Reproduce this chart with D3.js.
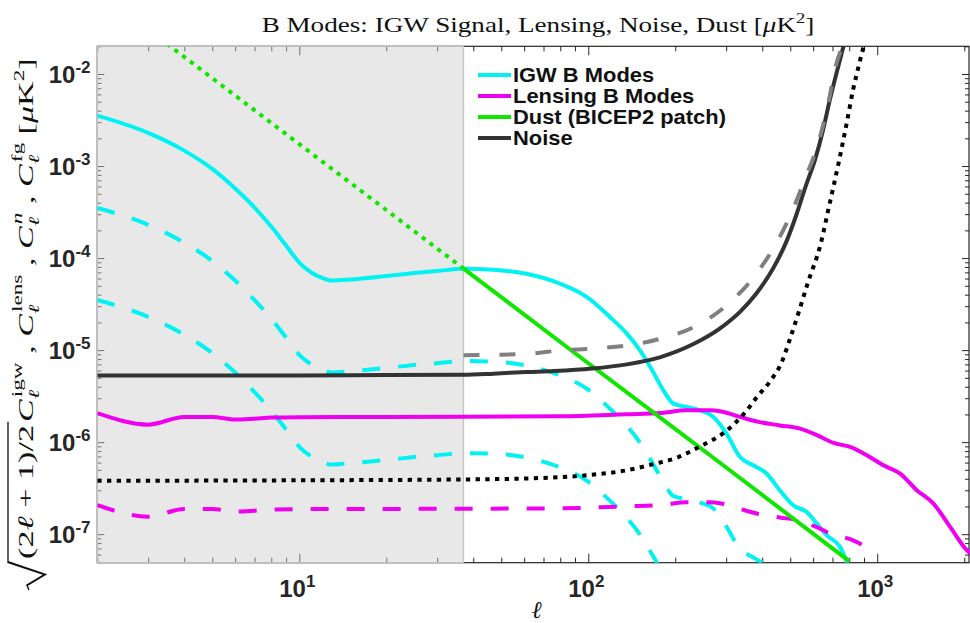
<!DOCTYPE html>
<html><head><meta charset="utf-8">
<script src="https://cdn.jsdelivr.net/npm/d3@7/dist/d3.min.js"></script>
<style>html,body{margin:0;padding:0;background:#fff;} svg{display:block;}</style>
</head><body>
<svg id="chart" width="970" height="623"></svg>
<script>
// ---------------- DATA ----------------
const ellIGW = [2,3,4,5,6,7,8,9,10,11,12,13,15,20,25,30,37,47,61,80,99,119,136,151,164,182,197,219,244,271,301,335,372,414,460,512,570,617,668,743,790];
const igwSolid = [3.53e-3,2.29e-3,1.47e-3,9.3e-4,5.69e-4,3.54e-4,2.2e-4,1.37e-4,8.95e-5,6.97e-5,6.08e-5,5.71e-5,5.86e-5,6.39e-5,6.88e-5,7.24e-5,7.65e-5,7.47e-5,6.75e-5,5.26e-5,3.76e-5,2.28e-5,1.51e-5,9.93e-6,6.54e-6,3.66e-6,2.62e-6,2.41e-6,2.22e-6,1.88e-6,1.24e-6,6.9e-7,5.61e-7,4.56e-7,3.0e-7,2.06e-7,1.74e-7,1.31e-7,9.75e-8,7.28e-8,4.8e-8];
const igwDashHigh = [3.5e-4,2.3e-4,1.47e-4,9.3e-5,5.7e-5,3.5e-5,2.2e-5,1.37e-5,8.9e-6,7.0e-6,6.1e-6,5.7e-6,5.9e-6,6.4e-6,6.9e-6,7.2e-6,7.6e-6,7.5e-6,6.8e-6,5.3e-6,3.8e-6,2.3e-6,1.5e-6,9.9e-7,6.5e-7,3.7e-7,2.6e-7,2.4e-7,2.2e-7,1.9e-7,1.2e-7,6.9e-8,5.6e-8,4.6e-8];
const igwDashLow = [3.5e-5,2.3e-5,1.47e-5,9.3e-6,5.7e-6,3.5e-6,2.2e-6,1.37e-6,8.9e-7,7.0e-7,6.1e-7,5.7e-7,5.9e-7,6.4e-7,6.9e-7,7.2e-7,7.6e-7,7.5e-7,6.8e-7,5.3e-7,3.8e-7,2.3e-7,1.5e-7,9.9e-8,6.5e-8,3.7e-8];

const ellLens = [2,3,4,5,6,7,8,10,20,37,80,136,178,219,262,289,335,388,460,541,618,706,806,920,1051,1200,1370,1565,1787,2041,2094];
const lensSolid = [2.07e-6,1.55e-6,1.88e-6,1.88e-6,1.76e-6,1.80e-6,1.85e-6,1.87e-6,1.88e-6,1.89e-6,1.91e-6,2.01e-6,2.07e-6,2.22e-6,2.22e-6,2.15e-6,1.88e-6,1.66e-6,1.52e-6,1.40e-6,1.19e-6,9.8e-7,8.86e-7,7.2e-7,5.6e-7,4.56e-7,3.01e-7,2.15e-7,1.2e-7,6.7e-8,6.2e-8];
const ellLensDash = [2,3,4,5,6,7,8,10,20,37,80,136,178,219,262,289,335,388,460,541,618,706,806,920,1000];
const lensDash = [2.07e-7,1.55e-7,1.88e-7,1.88e-7,1.76e-7,1.80e-7,1.85e-7,1.87e-7,1.88e-7,1.89e-7,1.91e-7,2.01e-7,2.07e-7,2.22e-7,2.22e-7,2.15e-7,1.88e-7,1.66e-7,1.52e-7,1.40e-7,1.19e-7,9.8e-8,8.86e-8,7.2e-8,6.2e-8];

const ellDustFaint = [2,5,10,20,37];
const dustFaint = [8.0e-2,9.0e-3,1.73e-3,3.33e-4,7.7e-5];
const ellDust = [37,100,300,800];
const dust = [7.7e-5,7.2e-6,5.3e-7,5.1e-8];

const ellNoise = [2,10,20,37,47,61,76,103,136,178,232,285,335,381,436,484,524,566,610,650,682,719,765];
const noise = [5.3e-6,5.3e-6,5.35e-6,5.4e-6,5.55e-6,5.77e-6,5.92e-6,6.3e-6,7.0e-6,8.4e-6,1.17e-5,1.71e-5,2.6e-5,4.1e-5,7.7e-5,1.49e-4,2.9e-4,6.1e-4,1.19e-3,2.5e-3,4.9e-3,9.6e-3,2.03e-2];

const ellNoiseHigh = [37,47,61,80,104,136,178,232,301,372,436,500,562,626,676,719,757];
const noiseHigh = [8.8e-6,8.9e-6,9.1e-6,9.9e-6,1.04e-5,1.12e-5,1.33e-5,1.78e-5,3.06e-5,6.1e-5,1.26e-4,2.9e-4,7.2e-4,1.81e-3,4.7e-3,1.23e-2,1.98e-2];

const ellNoiseLow = [2,10,36,61,99,136,167,203,244,294,346,388,424,470,497,535,576,635,682,736,785,826,869,889,920];
const noiseLow = [3.8e-7,3.85e-7,3.93e-7,4.03e-7,4.37e-7,4.95e-7,5.75e-7,6.8e-7,9.0e-7,1.26e-6,2.04e-6,3.23e-6,4.5e-6,7.74e-6,1.28e-5,2.59e-5,5.47e-5,1.37e-4,3.72e-4,1.1e-3,2.99e-3,6.87e-3,1.34e-2,1.79e-2,2.5e-2];

const shadeMax = 37;
const xMajorTicks = [10,100,1000];
const xTickExp = ["1","2","3"];
const yMajorTicks = [1e-2,1e-3,1e-4,1e-5,1e-6,1e-7];
const yTickExp = ["-2","-3","-4","-5","-6","-7"];
const legendLabels = ["IGW B Modes","Lensing B Modes","Dust (BICEP2 patch)","Noise"];
const legendColors = ["#00f2f2","#f000f0","#11e600","#333333"];
const titleText = "B Modes: IGW Signal, Lensing, Noise, Dust [";

// ---------------- CHART ----------------
const M = {left:97.3, right:970, top:46.3, bottom:562.7};
const x = d3.scaleLog().domain([2, 2094]).range([M.left, M.right]);
const y = d3.scaleLog().domain([4.9e-8, 2e-2]).range([M.bottom, M.top]);
const svg = d3.select('#chart');
const axisColor = '#262626';
const sansB = "'Liberation Sans', Arial, Helvetica, sans-serif";
const serif = "'Liberation Serif', 'Times New Roman', serif";

svg.append('defs').append('clipPath').attr('id','clip').append('rect')
  .attr('x',M.left).attr('y',M.top).attr('width',M.right-M.left).attr('height',M.bottom-M.top);

function logTicks(lo, hi, minorOnly){
  const out=[];
  for(let k=-9;k<=4;k++) for(let m=1;m<=9;m++){
    if(minorOnly && m===1) continue;
    const v = +(m*Math.pow(10,k)).toPrecision(6);
    if(v>=lo*0.9999 && v<=hi*1.0001) out.push(v);
  }
  return out;
}
const xMinor = logTicks(2,2094,true);
const yMinor = logTicks(4.9e-8,2e-2,true);

function styleAxis(g){
  g.select('.domain').remove();
  g.selectAll('.tick line').attr('stroke',axisColor).attr('stroke-width',1);
  g.selectAll('.tick text').remove();
}
const axG = svg.append('g');
axG.append('g').attr('transform',`translate(0,${M.bottom})`).call(d3.axisBottom(x).tickValues(xMinor).tickSize(-5).tickFormat(()=>'')).call(styleAxis);
axG.append('g').attr('transform',`translate(0,${M.bottom})`).call(d3.axisBottom(x).tickValues(xMajorTicks).tickSize(-9).tickFormat(()=>'')).call(styleAxis);
axG.append('g').attr('transform',`translate(0,${M.top})`).call(d3.axisTop(x).tickValues(xMinor).tickSize(-5).tickFormat(()=>'')).call(styleAxis);
axG.append('g').attr('transform',`translate(0,${M.top})`).call(d3.axisTop(x).tickValues(xMajorTicks).tickSize(-9).tickFormat(()=>'')).call(styleAxis);
axG.append('g').attr('transform',`translate(${M.left},0)`).call(d3.axisLeft(y).tickValues(yMinor).tickSize(-4).tickFormat(()=>'')).call(styleAxis);
axG.append('g').attr('transform',`translate(${M.left},0)`).call(d3.axisLeft(y).tickValues(yMajorTicks).tickSize(-7).tickFormat(()=>'')).call(styleAxis);
axG.append('g').attr('transform',`translate(969,0)`).call(d3.axisRight(y).tickValues(yMinor).tickSize(-4).tickFormat(()=>'')).call(styleAxis);
axG.append('g').attr('transform',`translate(969,0)`).call(d3.axisRight(y).tickValues(yMajorTicks).tickSize(-7).tickFormat(()=>'')).call(styleAxis);
axG.append('rect').attr('x',M.left).attr('y',M.top).attr('width',969-M.left).attr('height',M.bottom-M.top)
  .attr('fill','none').attr('stroke',axisColor).attr('stroke-width',1.2);

// shaded region
const sx0 = x(2), sx1 = x(shadeMax);
svg.append('rect').attr('x',sx0).attr('y',M.top).attr('width',sx1-sx0).attr('height',M.bottom-M.top)
  .attr('fill','#cdcdcd').attr('fill-opacity',0.45);
svg.append('rect').attr('x',sx0).attr('y',M.top).attr('width',sx1-sx0).attr('height',M.bottom-M.top)
  .attr('fill','none').attr('stroke','#c4c4c4').attr('stroke-width',1.3);

// curves
const plot = svg.append('g').attr('clip-path','url(#clip)');
const line = d3.line().x(d=>x(d[0])).y(d=>y(d[1])).curve(d3.curveMonotoneX);
const pair = (ls, vs) => vs.map((v,i)=>[ls[i], v]);
function draw(ls, vs, color, dash, w){
  plot.append('path').attr('d', line(pair(ls,vs))).attr('fill','none')
    .attr('stroke',color).attr('stroke-width',w||4).attr('stroke-dasharray',dash||null)
    .attr('stroke-linejoin','round').attr('stroke-linecap','butt');
}
const DASH = '18,18', DOT = '4.3,5.4';
draw(ellIGW, igwSolid, legendColors[0]);
draw(ellIGW.slice(0,igwDashHigh.length), igwDashHigh, legendColors[0], DASH);
draw(ellIGW.slice(0,igwDashLow.length), igwDashLow, legendColors[0], DASH);
draw(ellLens, lensSolid, legendColors[1]);
draw(ellLensDash, lensDash, legendColors[1], DASH);
draw(ellDustFaint, dustFaint, legendColors[2], DOT);
draw(ellDust, dust, legendColors[2]);
draw(ellNoise, noise, legendColors[3]);
draw(ellNoiseHigh, noiseHigh, '#808080', '16,20');
draw(ellNoiseLow, noiseLow, '#000000', DOT);

// tick labels
svg.append('g').selectAll('text').data(xMajorTicks).join('text')
  .attr('x',d=>x(d)-2).attr('y',597).attr('text-anchor','middle')
  .attr('font-family',sansB).attr('font-weight','bold').attr('font-size',24).attr('fill','#262626')
  .each(function(d,i){
    const t=d3.select(this);
    t.append('tspan').text('10');
    t.append('tspan').attr('dy',-10).attr('font-size',17).text(xTickExp[i]);
  });
svg.append('g').selectAll('text').data(yMajorTicks).join('text')
  .attr('x',90.5).attr('y',d=>y(d)+8.5).attr('text-anchor','end')
  .attr('font-family',sansB).attr('font-weight','bold').attr('font-size',24).attr('fill','#262626')
  .each(function(d,i){
    const t=d3.select(this);
    t.append('tspan').text('10');
    t.append('tspan').attr('dy',-10).attr('font-size',17).text(yTickExp[i]);
  });

// rich text helper
function rich(textSel, segs){
  let shift=0;
  segs.forEach(s=>{
    const t = textSel.append('tspan').text(s.t);
    const target = s.sup ? -s.sup : (s.sub ? s.sub : 0);
    if(target!==shift){ t.attr('dy', target-shift); shift=target; }
    if(s.i) t.attr('font-style','italic');
    if(s.fs) t.attr('font-size', s.fs);
    if(s.dx) t.attr('dx', s.dx);
  });
}

// title
const titleG = svg.append('g');
const title = titleG.append('text').attr('x',0).attr('y',0).attr('text-anchor','middle')
  .attr('font-family',serif).attr('font-size',22).attr('fill','#111');
rich(title, [{t:titleText},{t:'μ',i:true},{t:'K'},{t:'2',sup:9,fs:15},{t:']'}]);
{
  const bw = title.node().getBBox().width;
  titleG.attr('transform',`translate(538,32) scale(${553/bw},1)`);
}

// x label (centred under the axes)
svg.append('text').attr('x',(M.left+M.right)/2+3).attr('y',618).attr('text-anchor','middle')
  .attr('font-family',serif).attr('font-style','italic').attr('font-size',24).attr('fill','#111').text('ℓ');

// y label
const ylG = svg.append('g');
const yl = ylG.append('text').attr('x',0).attr('y',0)
  .attr('font-family',serif).attr('font-size',22).attr('fill','#111');
const sub = 6, sup = 11, sfs = 15;
rich(yl, [
  {t:'(2'},{t:'ℓ',i:true},{t:' + 1)/2'},
  {t:'C',i:true,dx:2},{t:'ℓ',i:true,sub:sub,fs:sfs},{t:'igw',sup:sup,fs:sfs,dx:-5},{t:' , '},
  {t:'C',i:true},{t:'ℓ',i:true,sub:sub,fs:sfs},{t:'lens',sup:sup,fs:sfs,dx:-5},{t:' , '},
  {t:'C',i:true},{t:'ℓ',i:true,sub:sub,fs:sfs},{t:'n',i:true,sup:sup,fs:sfs,dx:-5},{t:' , '},
  {t:'C',i:true},{t:'ℓ',i:true,sub:sub,fs:sfs},{t:'fg',sup:sup,fs:sfs,dx:-5},{t:' ['},
  {t:'μ',i:true},{t:'K'},{t:'2',sup:9,fs:sfs},{t:']'}
]);
{
  const node = yl.node();
  const x0 = node.getStartPositionOfChar(0).x;
  const xe = node.getEndPositionOfChar(9).x;
  const rx = x0 - 20;
  ylG.insert('path','text').attr('d',`M${rx},-4 L${rx+3},-6 L${rx+10},12 L${rx+18},-25 L${xe+2},-25`)
    .attr('fill','none').attr('stroke','#111').attr('stroke-width',1.3);
  const bb = ylG.node().getBBox();
  const s = 532/bb.width;
  const cx = bb.x + bb.width/2;
  ylG.attr('transform',`translate(33,324) rotate(-90) scale(${s},1) translate(${-cx},0)`);
}

// legend
const leg = svg.append('g');
const legY = [75,96,117,138];
legendLabels.forEach((lab,i)=>{
  leg.append('line').attr('x1',478).attr('x2',511).attr('y1',legY[i]).attr('y2',legY[i])
    .attr('stroke',legendColors[i]).attr('stroke-width',4);
});
const legTexts = legendLabels.map((lab,i)=>{
  const g = leg.append('g');
  g.append('text').attr('x',0).attr('y',0).attr('font-family',sansB).attr('font-weight','bold')
    .attr('font-size',20).attr('fill','#111').text(lab);
  return g;
});
{
  const wDust = legTexts[2].node().getBBox().width;
  const s = 213/wDust;
  legTexts.forEach((g,i)=>g.attr('transform',`translate(513,${legY[i]+7}) scale(${s},1)`));
}
</script>
</body></html>
